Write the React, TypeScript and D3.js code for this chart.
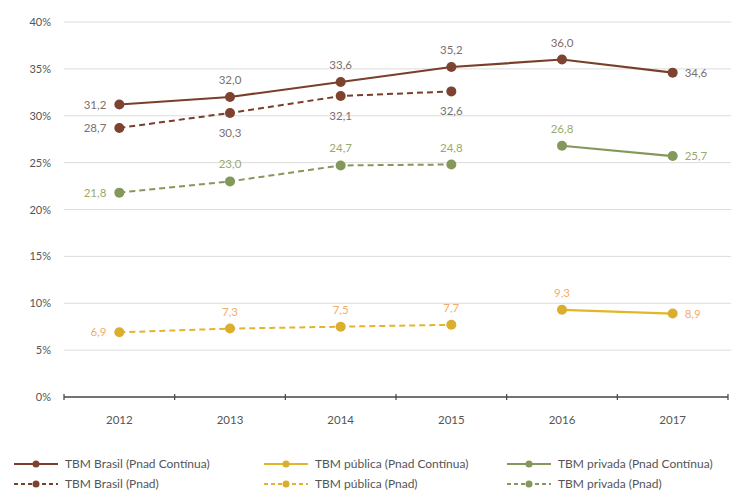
import React from 'react';
import * as d3 from 'd3';

const years = ['2012', '2013', '2014', '2015', '2016', '2017'];
const brasilContinua = [31.2, 32.0, 33.6, 35.2, 36.0, 34.6];
const brasilPnad = [28.7, 30.3, 32.1, 32.6, null, null];
const publicaContinua = [null, null, null, null, 9.3, 8.9];
const publicaPnad = [6.9, 7.3, 7.5, 7.7, null, null];
const privadaContinua = [null, null, null, null, 26.8, 25.7];
const privadaPnad = [21.8, 23.0, 24.7, 24.8, null, null];
const yTicks = [0, 5, 10, 15, 20, 25, 30, 35, 40];

type Pos = 'left' | 'right' | 'above' | 'below';
interface Series {
  name: string;
  values: (number | null)[];
  color: string;
  marker: string;
  labelColor: string;
  dashed: boolean;
  labelPos: Pos[];
}

const series: Series[] = [
  { name: 'TBM Brasil (Pnad Contínua)', values: brasilContinua, color: '#7a3f2b', marker: '#7d4330', labelColor: '#7d6f6a', dashed: false, labelPos: ['left', 'above', 'above', 'above', 'above', 'right'] },
  { name: 'TBM Brasil (Pnad)', values: brasilPnad, color: '#7a3f2b', marker: '#7d4330', labelColor: '#7d6f6a', dashed: true, labelPos: ['left', 'below', 'below', 'below', 'below', 'below'] },
  { name: 'TBM pública (Pnad Contínua)', values: publicaContinua, color: '#e2b628', marker: '#dcae2e', labelColor: '#f0ad6a', dashed: false, labelPos: ['above', 'above', 'above', 'above', 'above', 'right'] },
  { name: 'TBM pública (Pnad)', values: publicaPnad, color: '#e2b628', marker: '#dcae2e', labelColor: '#f0ad6a', dashed: true, labelPos: ['left', 'above', 'above', 'above', 'above', 'above'] },
  { name: 'TBM privada (Pnad Contínua)', values: privadaContinua, color: '#84985a', marker: '#83985a', labelColor: '#98ab6c', dashed: false, labelPos: ['above', 'above', 'above', 'above', 'above', 'right'] },
  { name: 'TBM privada (Pnad)', values: privadaPnad, color: '#84985a', marker: '#83985a', labelColor: '#98ab6c', dashed: true, labelPos: ['left', 'above', 'above', 'above', 'above', 'above'] },
];

const legendOrder = [0, 2, 4, 1, 3, 5];

const W = 742, H = 495;
const x0 = 64, x1 = 728;
const yTop = 22, yBot = 397;
const font = 'Lato, "Open Sans", sans-serif';

const fmt = (v: number) => d3.format('.1f')(v).replace('.', ',');

export default function App() {
  const x = d3.scaleBand<string>().domain(years).range([x0, x1]);
  const y = d3.scaleLinear().domain([0, 40]).range([yBot, yTop]);
  const cx = (i: number) => (x(years[i]) as number) + x.bandwidth() / 2;

  const line = d3
    .line<number | null>()
    .defined((d) => d !== null)
    .x((_, i) => cx(i))
    .y((d) => y(d as number));

  const boundaries = years.map((yr) => x(yr) as number).concat([x1]);

  const legendCols = [14, 264, 507];
  const legendRows = [464, 484];

  return (
    <svg width={W} height={H} style={{ position: 'absolute', left: 0, top: 0, background: '#fff' }} fontFamily={font}>
      {yTicks.map((t) => (
        <g key={t}>
          {t > 0 && <line x1={x0} x2={731} y1={y(t)} y2={y(t)} stroke="#dcdcdc" strokeWidth={1} />}
          <text x={51} y={y(t) + 4} textAnchor="end" fontSize={11} fill="#555">
            {t}%
          </text>
        </g>
      ))}
      <line x1={x0} x2={x1} y1={yBot} y2={yBot} stroke="#444" strokeWidth={1.5} />
      {boundaries.map((b, i) => (
        <line key={i} x1={b} x2={b} y1={yBot - 3} y2={yBot + 3} stroke="#444" strokeWidth={1.2} />
      ))}
      {years.map((yr, i) => (
        <text key={yr} x={cx(i)} y={424} textAnchor="middle" fontSize={11.5} fill="#555">
          {yr}
        </text>
      ))}

      {series.map((s, si) => (
        <g key={si}>
          <path
            d={line(s.values) || ''}
            fill="none"
            stroke={s.color}
            strokeWidth={s.dashed ? 2 : 2.2}
            strokeDasharray={s.dashed ? '6,4' : undefined}
          />
          {s.values.map((v, i) =>
            v === null ? null : <circle key={i} cx={cx(i)} cy={y(v)} r={5} fill={s.marker} />
          )}
          {s.values.map((v, i) => {
            if (v === null) return null;
            const p = s.labelPos[i];
            let tx = cx(i), ty = y(v) + 4, anchor: 'start' | 'middle' | 'end' = 'middle';
            if (p === 'left') { tx = cx(i) - 13; anchor = 'end'; }
            else if (p === 'right') { tx = cx(i) + 12; anchor = 'start'; }
            else if (p === 'above') { ty = y(v) - 13; }
            else { ty = y(v) + 24; }
            return (
              <text key={'l' + i} x={tx} y={ty} textAnchor={anchor} fontSize={11.5} fill={s.labelColor}>
                {fmt(v)}
              </text>
            );
          })}
        </g>
      ))}

      {legendOrder.map((si, k) => {
        const s = series[si];
        const lx = legendCols[k % 3];
        const ly = legendRows[Math.floor(k / 3)];
        return (
          <g key={si}>
            <line x1={lx} x2={lx + 44} y1={ly} y2={ly} stroke={s.color} strokeWidth={2} strokeDasharray={s.dashed ? '4,3' : undefined} />
            <circle cx={lx + 22} cy={ly} r={3.5} fill={s.marker} />
            <text x={lx + 51} y={ly + 4} fontSize={12} fill="#555">
              {s.name}
            </text>
          </g>
        );
      })}
    </svg>
  );
}
